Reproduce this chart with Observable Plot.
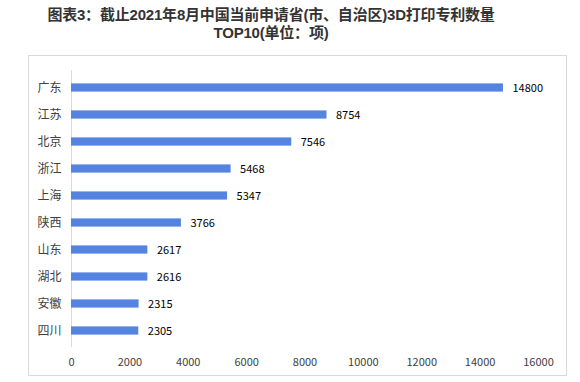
<!DOCTYPE html>
<html>
<head>
<meta charset="utf-8">
<script src="https://cdn.jsdelivr.net/npm/d3@7"></script>
<script src="https://cdn.jsdelivr.net/npm/@observablehq/plot@0.6"></script>
<style>
  html, body { margin: 0; padding: 0; background: #fff; }
  body { width: 580px; height: 382px; position: relative; overflow: hidden;
         font-family: "Noto Sans CJK SC", "Noto Sans", sans-serif; }
  .title { position: absolute; left: 0; width: 542px; text-align: center; white-space: nowrap;
           font-family: "Liberation Sans", "Noto Sans CJK SC", sans-serif;
           font-size: 15px; font-weight: bold; line-height: 17px; height: 17px; color: #333; letter-spacing: -0.2px; }
  #t1 { top: 6px; }
  #t2 { top: 24px; }
  #frame { position: absolute; left: 28px; top: 55px; width: 539px; height: 321px;
           border: 1px solid #d9d9d9; box-sizing: border-box; }
  #chart { position: absolute; left: 0; top: 46px; }
</style>
</head>
<body>
<div class="title" id="t1">图表3：截止2021年8月中国当前申请省(市、自治区)3D打印专利数量</div>
<div class="title" id="t2">TOP10(单位：项)</div>
<div id="frame"></div>
<div id="chart"></div>
<script>
const provinces = ["广东", "江苏", "北京", "浙江", "上海", "陕西", "山东", "湖北", "安徽", "四川"];
const patents = [14800, 8754, 7546, 5468, 5347, 3766, 2617, 2616, 2315, 2305];
const xTicks = [0, 2000, 4000, 6000, 8000, 10000, 12000, 14000, 16000];

const data = provinces.map((p, i) => ({province: p, value: patents[i]}));

const chart = Plot.plot({
  width: 580,
  height: 336,
  marginTop: 24,
  marginBottom: 35,
  marginLeft: 71,
  marginRight: 42,
  style: {fontFamily: "'Noto Sans CJK SC', 'Noto Sans', sans-serif", background: "transparent"},
  x: {domain: [0, 16000], axis: null, label: null},
  y: {domain: provinces, padding: 0, axis: null, label: null},
  marks: [
    Plot.ruleX([0], {stroke: "#d9d9d9", strokeWidth: 1}),
    Plot.barX(data, {y: "province", x: "value", fill: "#5584E0", insetTop: 9.4, insetBottom: 9.4}),
    Plot.text(data, {y: "province", x: "value", text: d => String(d.value), dx: 9, textAnchor: "start",
                     fontSize: 11, fill: "#000"}),
    Plot.text(data, {y: "province", text: "province", frameAnchor: "left", dx: -34, textAnchor: "start",
                     fontSize: 12, fill: "#404040"}),
    Plot.axisX({ticks: xTicks, tickSize: 0, tickPadding: 11, tickFormat: d => String(d),
                fontSize: 11, color: "#404040", label: null})
  ]
});
document.getElementById("chart").appendChild(chart);
</script>
</body>
</html>
